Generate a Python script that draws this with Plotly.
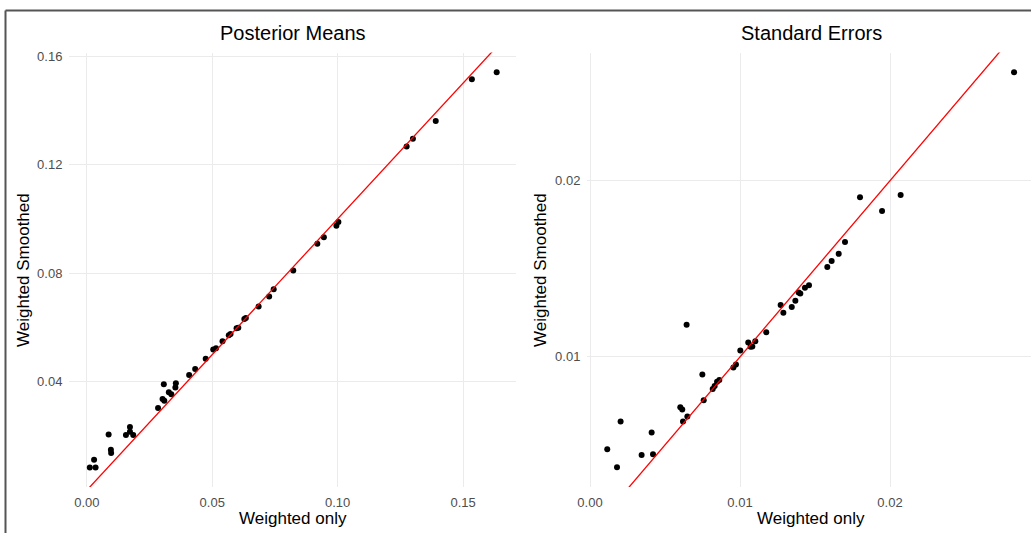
import plotly.graph_objects as go

# Posterior means: weighted only (x) vs weighted smoothed (y)
pm_x = [0.0012, 0.0029, 0.0035, 0.0087, 0.0096, 0.0097, 0.0156, 0.0172, 0.0172, 0.0185,
        0.0284, 0.0302, 0.0307, 0.0309, 0.0327, 0.0337, 0.0353, 0.0355, 0.0408, 0.0432,
        0.0474, 0.0504, 0.0515, 0.0541, 0.0566, 0.0573, 0.0597, 0.0604, 0.0628, 0.0634,
        0.0685, 0.0727, 0.0745, 0.0823, 0.0919, 0.0945, 0.0995, 0.1003, 0.1275, 0.1300,
        0.1391, 0.1535, 0.1634]
pm_y = [0.0084, 0.0112, 0.0084, 0.0205, 0.0149, 0.0137, 0.0204, 0.0233, 0.0216, 0.0204,
        0.0303, 0.0336, 0.0391, 0.0330, 0.0361, 0.0354, 0.0379, 0.0394, 0.0425, 0.0447,
        0.0485, 0.0519, 0.0523, 0.0549, 0.0571, 0.0576, 0.0597, 0.0599, 0.0631, 0.0635,
        0.0677, 0.0714, 0.0741, 0.0810, 0.0908, 0.0932, 0.0975, 0.0988, 0.1267, 0.1295,
        0.1361, 0.1514, 0.1540]

# Standard errors
se_x = [0.00115, 0.0018, 0.00204, 0.00344, 0.00411, 0.0042, 0.00602, 0.00615, 0.0062, 0.00644,
        0.00649, 0.00749, 0.00758, 0.00818, 0.00831, 0.00847, 0.00862, 0.00956, 0.00973, 0.01002,
        0.01055, 0.01071, 0.01082, 0.01102, 0.01175, 0.01271, 0.01289, 0.01345, 0.01369, 0.01391,
        0.01402, 0.01433, 0.0146, 0.01582, 0.01611, 0.01658, 0.0170, 0.0180, 0.01947, 0.02071,
        0.02827]
se_y = [0.00476, 0.00373, 0.00633, 0.00443, 0.0057, 0.00447, 0.00714, 0.00701, 0.00633, 0.01182,
        0.00661, 0.0090, 0.00754, 0.00818, 0.00834, 0.00858, 0.00868, 0.0094, 0.00957, 0.01036,
        0.01082, 0.01057, 0.01059, 0.01089, 0.0114, 0.01294, 0.0125, 0.01283, 0.01318, 0.01366,
        0.0136, 0.01392, 0.01406, 0.0151, 0.01544, 0.01585, 0.01652, 0.01906, 0.01828, 0.01919,
        0.02616]

# identity reference line y = x
ref_line = [0.0, 0.2]

pm_xticks = [0.00, 0.05, 0.10, 0.15]
pm_yticks = [0.04, 0.08, 0.12, 0.16]
se_xticks = [0.00, 0.01, 0.02]
se_yticks = [0.01, 0.02]

W, H = 1031, 533
FONT = "Liberation Sans, Arial, sans-serif"
GRID = "#ebebeb"
TICKC = "#4d4d4d"

fig = go.Figure()
marker = dict(color="black", size=6)
fig.add_trace(go.Scatter(x=pm_x, y=pm_y, mode="markers", marker=marker, xaxis="x", yaxis="y", showlegend=False))
fig.add_trace(go.Scatter(x=ref_line, y=ref_line, mode="lines", line=dict(color="red", width=1.3),
                         xaxis="x", yaxis="y", showlegend=False))
fig.add_trace(go.Scatter(x=se_x, y=se_y, mode="markers", marker=marker, xaxis="x2", yaxis="y2", showlegend=False))
fig.add_trace(go.Scatter(x=ref_line, y=ref_line, mode="lines", line=dict(color="red", width=1.3),
                         xaxis="x2", yaxis="y2", showlegend=False))

def px(v):
    return v / W

def py(v):
    return (H - v) / H

axis_common = dict(showgrid=True, gridcolor=GRID, gridwidth=1.1, zeroline=False, showline=False,
                   ticks="outside", ticklen=3, tickcolor="rgba(0,0,0,0)", automargin=False,
                   tickfont=dict(family=FONT, size=13, color=TICKC), tickformat=".2f")

ydom = [py(487), py(52.5)]
fig.update_layout(
    width=W, height=H,
    margin=dict(l=0, r=0, t=0, b=0, pad=0, autoexpand=False),
    paper_bgcolor="white", plot_bgcolor="white",
    xaxis=dict(domain=[px(69), px(516)], range=[-0.0071, 0.1711], tickvals=pm_xticks, anchor="y", **axis_common),
    yaxis=dict(domain=ydom, range=[0.0012, 0.1613], tickvals=pm_yticks, anchor="x", **axis_common),
    xaxis2=dict(domain=[px(587), 1.0], range=[-0.0002, 0.0294], tickvals=se_xticks, anchor="y2", **axis_common),
    yaxis2=dict(domain=ydom, range=[0.00261, 0.02728], tickvals=se_yticks, anchor="x2", **axis_common),
    font=dict(family=FONT),
)

ann = []
for cx, title in [(293, "Posterior Means"), (811, "Standard Errors")]:
    ann.append(dict(text=title, x=px(cx), y=py(33), xref="paper", yref="paper", showarrow=False,
                    xanchor="center", yanchor="middle", font=dict(family=FONT, size=20, color="black")))
    ann.append(dict(text="Weighted only", x=px(cx), y=py(518), xref="paper", yref="paper", showarrow=False,
                    xanchor="center", yanchor="middle", font=dict(family=FONT, size=17, color="black")))
for cx in [23, 540]:
    ann.append(dict(text="Weighted Smoothed", x=px(cx), y=py(270), xref="paper", yref="paper", showarrow=False,
                    textangle=-90, xanchor="center", yanchor="middle", font=dict(family=FONT, size=17, color="black")))
fig.update_layout(annotations=ann)

# frame of the original screenshot (left and top edges visible)
frame = dict(color="#555555", width=2)
fig.add_shape(type="line", xref="paper", yref="paper", x0=px(5.5), x1=px(5.5), y0=0, y1=py(10.5), line=frame, layer="above")
fig.add_shape(type="line", xref="paper", yref="paper", x0=px(5.5), x1=1, y0=py(10.5), y1=py(10.5), line=frame, layer="above")

post = ("document.documentElement.style.margin='0';document.documentElement.style.overflow='hidden';"
        "document.body.style.margin='0';document.body.style.padding='0';document.body.style.overflow='hidden';")
fig.write_html("out.html", post_script=post, config={"displayModeBar": False})
